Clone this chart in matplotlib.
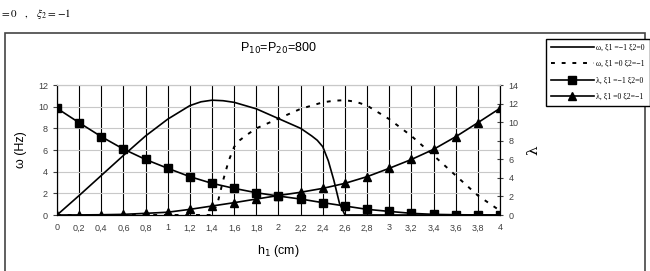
import matplotlib.pyplot as plt
from matplotlib.patches import Rectangle

# h1 (cm)
h1 = [0, 0.2, 0.4, 0.6, 0.8, 1.0, 1.2, 1.4, 1.6, 1.8, 2.0,
      2.2, 2.4, 2.6, 2.8, 3.0, 3.2, 3.4, 3.6, 3.8, 4.0]
xtick_labels = ['0', '0,2', '0,4', '0,6', '0,8', '1', '1,2', '1,4', '1,6', '1,8', '2',
                '2,2', '2,4', '2,6', '2,8', '3', '3,2', '3,4', '3,6', '3,8', '4']

# omega (Hz), left axis -- read a bit denser where the curves bend hard
h_w1 = [0, 0.2, 0.4, 0.6, 0.8, 1.0, 1.2, 1.3, 1.4, 1.5, 1.6, 1.8, 2.0, 2.2, 2.3, 2.35, 2.4,
        2.45, 2.5, 2.55, 2.6, 2.8, 3.0, 3.2, 3.4, 3.6, 3.8, 4.0]
w1 = [0, 1.8, 3.65, 5.5, 7.3, 8.85, 10.1, 10.45, 10.6, 10.55, 10.4, 9.8, 8.9, 8.0, 7.3, 6.9, 6.3,
      5.0, 3.2, 1.1, 0, 0, 0, 0, 0, 0, 0, 0]
h_w2 = [0, 0.2, 0.4, 0.6, 0.8, 1.0, 1.2, 1.4, 1.45, 1.5, 1.55, 1.6, 1.65, 1.7, 1.8, 2.0, 2.2,
        2.4, 2.5, 2.6, 2.7, 2.8, 3.0, 3.2, 3.4, 3.6, 3.8, 4.0]
w2 = [0, 0, 0, 0, 0, 0, 0, 0, 1.1, 3.2, 5.0, 6.3, 6.9, 7.3, 8.0, 8.9, 9.8,
      10.4, 10.55, 10.6, 10.45, 10.1, 8.85, 7.3, 5.5, 3.65, 1.8, 0.4]

# lambda, right axis
lam1 = [11.49, 9.94, 8.44, 7.1, 5.98, 5.03, 4.13, 3.41, 2.87, 2.4, 2.04,
        1.72, 1.33, 0.97, 0.61, 0.39, 0.18, 0.07, 0.03, 0.01, 0.0]
lam2 = [0.0, 0.01, 0.03, 0.07, 0.18, 0.3, 0.61, 0.97, 1.33, 1.72, 2.1,
        2.45, 2.87, 3.41, 4.13, 5.03, 5.98, 7.07, 8.43, 9.94, 11.49]

plt.rcParams['font.family'] = ['Liberation Sans', 'DejaVu Sans']

fig = plt.figure(figsize=(6.5, 2.71), dpi=100)
ax = fig.add_axes([0.0877, 0.2066, 0.6815, 0.4797])
ax2 = ax.twinx()

# outer frame of the embedded picture
fig.patches.append(Rectangle((5/650, -0.1), 640/650, 1.1 - 33/271, transform=fig.transFigure,
                             fill=False, edgecolor='#444444', linewidth=1.2))
fig.text(0.0, 0.975, r'$=0\quad,\quad\xi_2=-1$', fontsize=8, va='top', ha='left',
         math_fontfamily='stix')

l1, = ax.plot(h_w1, w1, color='black', linewidth=1.2, label='ω, ξ1 =−1 ξ2=0')
l2, = ax.plot(h_w2, w2, color='black', linewidth=1.4, linestyle=(0, (2, 3.5)),
              label='ω, ξ1 =0 ξ2=−1')
l3, = ax2.plot(h1, lam1, color='black', linewidth=1.2, marker='s', markersize=6,
               label='λ, ξ1 =−1 ξ2=0')
l4, = ax2.plot(h1, lam2, color='black', linewidth=1.2, marker='^', markersize=6,
               label='λ, ξ1 =0 ξ2=−1')

ax.set_xlim(0, 4)
ax.set_ylim(0, 12)
ax2.set_ylim(0, 14)
ax.set_xticks(h1)
ax.set_xticklabels(xtick_labels)
ax.set_yticks(range(0, 13, 2))
ax2.set_yticks(range(0, 15, 2))

ax.grid(axis='y', color='#c8c8c8', linewidth=0.8)
for x in h1:
    ax.axvline(x, color='black', linewidth=0.8, zorder=0.5)
ax.set_axisbelow(True)

for a in (ax, ax2):
    a.tick_params(labelsize=6.5, colors='#404040', length=3, width=0.8)
    a.spines['top'].set_color('#c8c8c8')
ax.tick_params(axis='x', length=0, pad=6)
ax2.tick_params(axis='y', direction='inout', length=5)

ax.set_xlabel('h$_1$ (cm)', fontsize=9, labelpad=8)
ax.set_ylabel('ω (Hz)', fontsize=9, labelpad=8)
ax2.set_ylabel('λ', fontsize=11, family=['DejaVu Serif'], labelpad=6)
ax.set_title('P$_{10}$=P$_{20}$=800', fontsize=9, pad=24)

fig.legend(handles=[l1, l2, l3, l4], loc='upper right', bbox_to_anchor=(650/650, 1 - 39/271),
           frameon=True, fancybox=False, edgecolor='black', framealpha=1,
           prop={'family': 'Liberation Serif', 'size': 5.6}, handlelength=5.6,
           borderaxespad=0, labelspacing=1.05, handletextpad=0.3, borderpad=0.65)

fig.savefig('out.png', dpi=100)
